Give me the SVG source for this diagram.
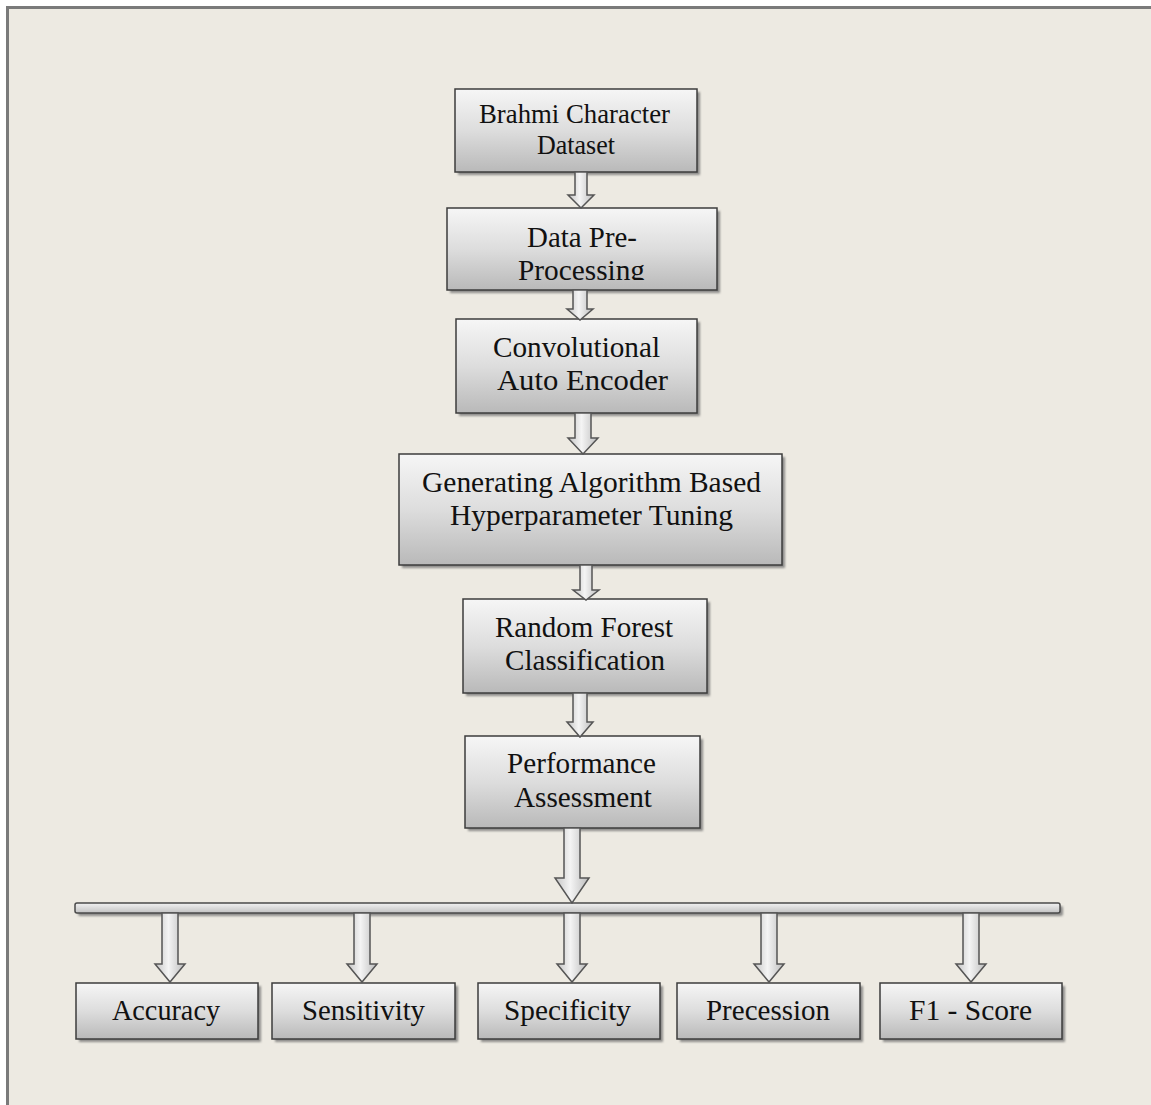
<svg xmlns="http://www.w3.org/2000/svg" width="1151" height="1105" viewBox="0 0 1151 1105">
<defs>
<linearGradient id="boxg" x1="0" y1="0" x2="0" y2="1">
<stop offset="0" stop-color="#f6f6f6"/>
<stop offset="0.5" stop-color="#dddddd"/>
<stop offset="1" stop-color="#b9b9b9"/>
</linearGradient>
<linearGradient id="arrg" x1="0" y1="0" x2="1" y2="0">
<stop offset="0" stop-color="#c4c4c4"/>
<stop offset="0.45" stop-color="#f4f4f4"/>
<stop offset="1" stop-color="#bcbcbc"/>
</linearGradient>
<linearGradient id="barg" x1="0" y1="0" x2="0" y2="1">
<stop offset="0" stop-color="#f2f2f2"/>
<stop offset="1" stop-color="#c2c2c2"/>
</linearGradient>
<filter id="sh" x="-10%" y="-10%" width="130%" height="140%">
<feGaussianBlur stdDeviation="1"/>
</filter>
<clipPath id="clipProc"><rect x="447" y="208" width="270" height="72"/></clipPath>
</defs>
<style>
.box{fill:url(#boxg);stroke:#3c3c3c;stroke-width:1.5}
.shadow{fill:#6e6e6e;opacity:0.75;filter:url(#sh)}
.arr{fill:url(#arrg);stroke:#555555;stroke-width:1.5;stroke-linejoin:miter}
.lbl{font-family:"Liberation Serif","Times New Roman",serif;font-size:28.5px;fill:#111111;text-anchor:middle}
.lbl2{font-family:"Liberation Serif","Times New Roman",serif;font-size:26.5px;fill:#111111;text-anchor:middle}
</style>
<rect x="0" y="0" width="1151" height="1105" fill="#ffffff"/>
<rect x="8" y="8" width="1143" height="1097" fill="#edeae2"/>
<path d="M7.5 1105 V7.5 H1151" fill="none" stroke="#7a7a7a" stroke-width="3"/>

<g id="node-brahmi">
<rect class="shadow" x="458" y="92" width="242" height="83"/>
<rect class="box" x="455" y="89" width="242" height="83"/>
<text class="lbl2" x="574.5" y="123" textLength="191" lengthAdjust="spacingAndGlyphs">Brahmi Character</text>
<text class="lbl2" x="576" y="154" textLength="78" lengthAdjust="spacingAndGlyphs">Dataset</text>
</g>
<g id="node-preprocessing">
<rect class="shadow" x="450" y="211" width="270" height="82"/>
<rect class="box" x="447" y="208" width="270" height="82"/>
<text class="lbl" x="582" y="247" textLength="110" lengthAdjust="spacingAndGlyphs">Data Pre-</text>
<text class="lbl" x="581.5" y="280" textLength="127" lengthAdjust="spacingAndGlyphs" clip-path="url(#clipProc)">Processing</text>
</g>
<g id="node-cae">
<rect class="shadow" x="459" y="322" width="241" height="94"/>
<rect class="box" x="456" y="319" width="241" height="94"/>
<text class="lbl" x="576.5" y="357" textLength="167" lengthAdjust="spacingAndGlyphs">Convolutional</text>
<text class="lbl" x="582.5" y="390" textLength="171" lengthAdjust="spacingAndGlyphs">Auto Encoder</text>
</g>
<g id="node-ga">
<rect class="shadow" x="402" y="457" width="383" height="111"/>
<rect class="box" x="399" y="454" width="383" height="111"/>
<text class="lbl" x="591.5" y="492" textLength="339" lengthAdjust="spacingAndGlyphs">Generating Algorithm Based</text>
<text class="lbl" x="591.5" y="525" textLength="283" lengthAdjust="spacingAndGlyphs">Hyperparameter Tuning</text>
</g>
<g id="node-rf">
<rect class="shadow" x="466" y="602" width="244" height="94"/>
<rect class="box" x="463" y="599" width="244" height="94"/>
<text class="lbl" x="584" y="637" textLength="178" lengthAdjust="spacingAndGlyphs">Random Forest</text>
<text class="lbl" x="585" y="670" textLength="160" lengthAdjust="spacingAndGlyphs">Classification</text>
</g>
<g id="node-perf">
<rect class="shadow" x="468" y="739" width="235" height="92"/>
<rect class="box" x="465" y="736" width="235" height="92"/>
<text class="lbl" x="581.5" y="773" textLength="149" lengthAdjust="spacingAndGlyphs">Performance</text>
<text class="lbl" x="583" y="807" textLength="138" lengthAdjust="spacingAndGlyphs">Assessment</text>
</g>
<g id="node-bar">
<rect class="shadow" x="78" y="906" width="985" height="10" rx="2"/>
<rect x="75" y="903" width="985" height="10" rx="2" fill="url(#barg)" stroke="#4a4a4a" stroke-width="1.5"/>
</g>
<g id="node-accuracy">
<rect class="shadow" x="79" y="986" width="182" height="56"/>
<rect class="box" x="76" y="983" width="182" height="56"/>
<text class="lbl" x="166" y="1020" textLength="108" lengthAdjust="spacingAndGlyphs">Accuracy</text>
</g>
<g id="node-sensitivity">
<rect class="shadow" x="275" y="986" width="183" height="56"/>
<rect class="box" x="272" y="983" width="183" height="56"/>
<text class="lbl" x="363.5" y="1020" textLength="123" lengthAdjust="spacingAndGlyphs">Sensitivity</text>
</g>
<g id="node-specificity">
<rect class="shadow" x="481" y="986" width="182" height="56"/>
<rect class="box" x="478" y="983" width="182" height="56"/>
<text class="lbl" x="567.5" y="1020" textLength="127" lengthAdjust="spacingAndGlyphs">Specificity</text>
</g>
<g id="node-precession">
<rect class="shadow" x="680" y="986" width="183" height="56"/>
<rect class="box" x="677" y="983" width="183" height="56"/>
<text class="lbl" x="768" y="1020" textLength="124" lengthAdjust="spacingAndGlyphs">Precession</text>
</g>
<g id="node-f1">
<rect class="shadow" x="883" y="986" width="182" height="56"/>
<rect class="box" x="880" y="983" width="182" height="56"/>
<text class="lbl" x="970.5" y="1020" textLength="123" lengthAdjust="spacingAndGlyphs">F1 - Score</text>
</g>

<g id="connectors">
<path class="arr" d="M575 172 H587 V195 H594 L581 208 L568 195 H575 Z"/>
<path class="arr" d="M573 290 H587 V309 H593 L580 320 L567 309 H573 Z"/>
<path class="arr" d="M575 413 H591 V438 H598 L583 454 L568 438 H575 Z"/>
<path class="arr" d="M580 565 H592 V590 H599 L586 600 L573 590 H580 Z"/>
<path class="arr" d="M573 693 H587 V722 H593 L580 737 L567 722 H573 Z"/>
<path class="arr" d="M564 828 H580 V878 H589 L572 903 L555 878 H564 Z"/>
<path class="arr" d="M162 913 H178 V964 H185 L170 982 L155 964 H162 Z"/>
<path class="arr" d="M354 913 H370 V964 H377 L362 982 L347 964 H354 Z"/>
<path class="arr" d="M564 913 H580 V964 H587 L572 982 L557 964 H564 Z"/>
<path class="arr" d="M761 913 H777 V964 H784 L769 982 L754 964 H761 Z"/>
<path class="arr" d="M963 913 H979 V964 H986 L971 982 L956 964 H963 Z"/>
</g>
</svg>
